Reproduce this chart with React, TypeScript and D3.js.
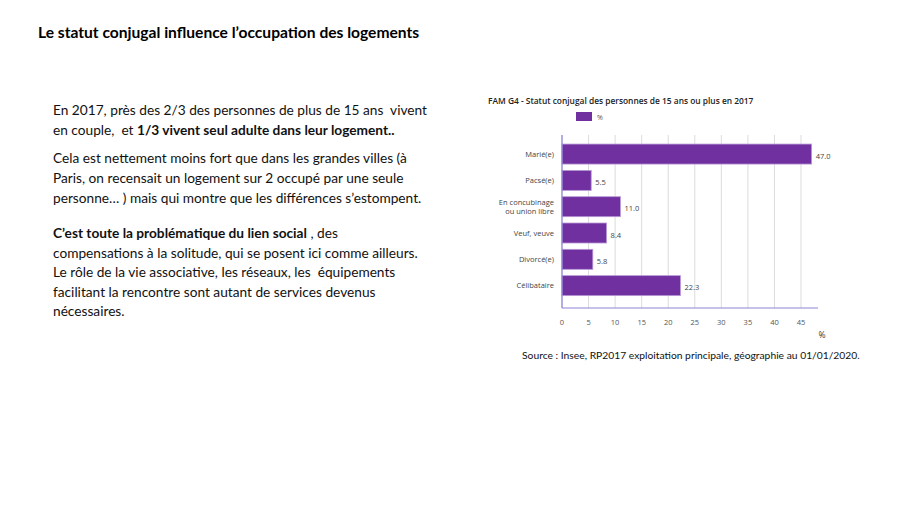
import React from "react";
import * as d3 from "d3";

const categories = ["Marié(e)", "Pacsé(e)", "En concubinage|ou union libre", "Veuf, veuve", "Divorcé(e)", "Célibataire"];
const values = [47.0, 5.5, 11.0, 8.4, 5.8, 22.3];
const xTicks = [0, 5, 10, 15, 20, 25, 30, 35, 40, 45];

const slideTitle = "Le statut conjugal influence l’occupation des logements";
const chartTitle = "FAM G4 - Statut conjugal des personnes de 15 ans ou plus en 2017";
const legendLabel = "%";
const sourceText = "Source : Insee, RP2017 exploitation principale, géographie au 01/01/2020.";

type Seg = { t: string; b?: boolean };
const para1: Seg[][] = [
  [{ t: "En 2017, près des 2/3 des personnes de plus de 15 ans  vivent" }],
  [{ t: "en couple,  et " }, { t: "1/3 vivent seul adulte dans leur logement..", b: true }],
];
const para2: Seg[][] = [
  [{ t: "Cela est nettement moins fort que dans les grandes villes (à" }],
  [{ t: "Paris, on recensait un logement sur 2 occupé par une seule" }],
  [{ t: "personne… ) mais qui montre que les différences s’estompent." }],
];
const para3: Seg[][] = [
  [{ t: "C’est toute la problématique du lien social", b: true }, { t: " , des" }],
  [{ t: "compensations à la solitude, qui se posent ici comme ailleurs." }],
  [{ t: "Le rôle de la vie associative, les réseaux, les  équipements" }],
  [{ t: "facilitant la rencontre sont autant de services devenus" }],
  [{ t: "nécessaires." }],
];

const W = 898;
const H = 505;
const slideFont = "Lato, 'Open Sans', sans-serif";
const chartFont = "'Open Sans', 'Noto Sans', sans-serif";

const x = d3.scaleLinear().domain([0, 48.2]).range([562, 818]);
const y = d3
  .scaleBand<string>()
  .domain(categories)
  .range([140.9, 298.8])
  .paddingInner(0.24)
  .paddingOuter(0.12);

function Para({ lines, y0, step }: { lines: Seg[][]; y0: number; step: number }) {
  return (
    <>
      {lines.map((segs, i) => (
        <text
          key={i}
          x={53}
          y={y0 + i * step}
          fontFamily={slideFont}
          fontSize={13.7}
          fill="#111"
          style={{ whiteSpace: "pre" }}
        >
          {segs.map((s, j) => (
            <tspan key={j} fontWeight={s.b ? 700 : 400}>
              {s.t}
            </tspan>
          ))}
        </text>
      ))}
    </>
  );
}

export default function App() {
  const gridTop = 135;
  const axisY = 308;
  return (
    <svg
      width={W}
      height={H}
      viewBox={`0 0 ${W} ${H}`}
      style={{ position: "absolute", left: 0, top: 0, background: "#fff" }}
    >
      <rect x={0} y={0} width={W} height={H} fill="#fff" />
      <text x={38} y={37.5} fontFamily={slideFont} fontWeight={700} fontSize={15.6} fill="#000">
        {slideTitle}
      </text>

      <Para lines={para1} y0={115} step={20} />
      <Para lines={para2} y0={163} step={20} />
      <Para lines={para3} y0={238} step={19.5} />

      {/* chart */}
      <text x={488} y={104} fontFamily={chartFont} fontWeight={600} fontSize={8.4} fill="#222">
        {chartTitle}
      </text>
      <rect x={576} y={112} width={16} height={9} fill="#7030a0" />
      <text x={597} y={119.5} fontFamily={chartFont} fontSize={7} fill="#555">
        {legendLabel}
      </text>

      {xTicks.map((t) => (
        <line key={t} x1={x(t)} x2={x(t)} y1={gridTop} y2={axisY} stroke="#dcdcdc" strokeWidth={1} />
      ))}

      {categories.map((c, i) => {
        const by = y(c)!;
        const bh = y.bandwidth();
        const lines = c.split("|");
        const cy = by + bh / 2;
        return (
          <g key={c}>
            <rect
              x={x(0)}
              y={by}
              width={x(values[i]) - x(0)}
              height={bh}
              fill="#7030a0"
              stroke="#b89ad6"
              strokeWidth={0.8}
            />
            {lines.map((l, k) => (
              <text
                key={k}
                x={554}
                y={cy + (k - (lines.length - 1) / 2) * 9}
                dy="0.35em"
                textAnchor="end"
                fontFamily={chartFont}
                fontSize={7.5}
                fill="#444"
              >
                {l}
              </text>
            ))}
            <text
              x={x(values[i]) + 4}
              y={cy + 2}
              dy="0.35em"
              fontFamily={chartFont}
              fontSize={7.5}
              fill="#444"
            >
              {values[i].toFixed(1)}
            </text>
          </g>
        );
      })}

      <line x1={x(0)} x2={x(0)} y1={gridTop} y2={axisY} stroke="#8c84d8" strokeWidth={1.2} />
      <line x1={x(0)} x2={818} y1={axisY} y2={axisY} stroke="#8c84d8" strokeWidth={1.2} />

      {xTicks.map((t) => (
        <text
          key={t}
          x={x(t)}
          y={322}
          dy="0.35em"
          textAnchor="middle"
          fontFamily={chartFont}
          fontSize={7.5}
          fill="#555"
        >
          {t}
        </text>
      ))}
      <text x={822} y={335} dy="0.35em" textAnchor="middle" fontFamily={chartFont} fontSize={8.5} fill="#333">
        %
      </text>

      <text x={522} y={358.5} fontFamily={slideFont} fontSize={10.3} fill="#111">
        {sourceText}
      </text>
    </svg>
  );
}
